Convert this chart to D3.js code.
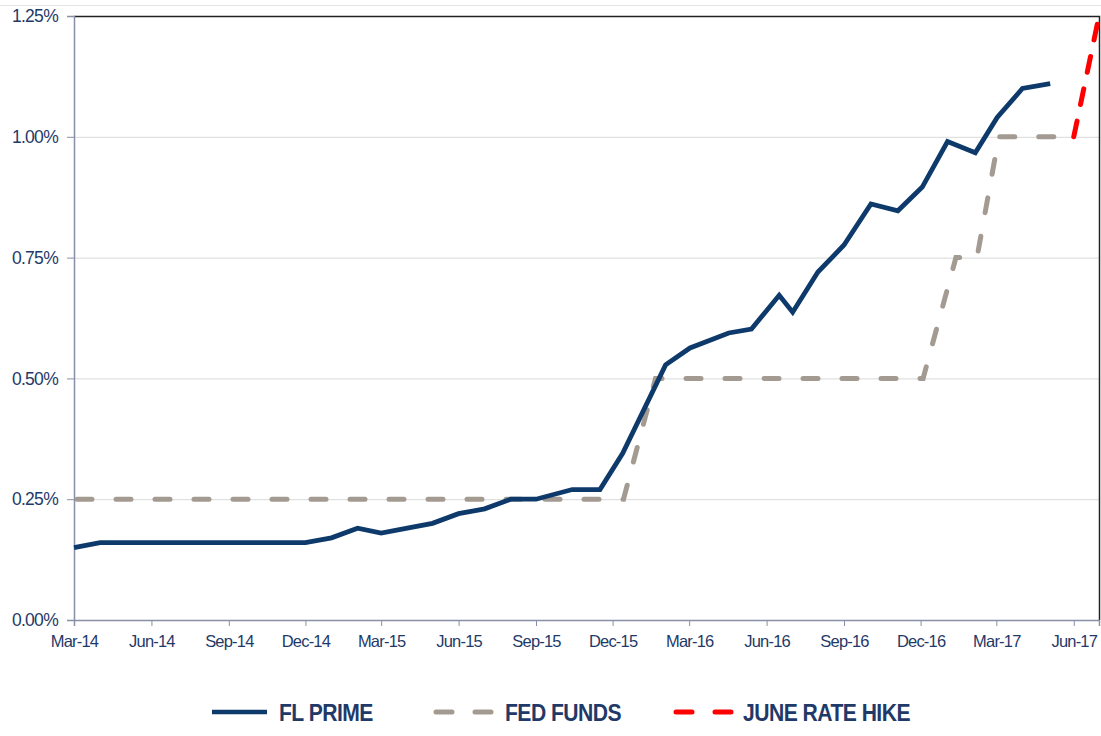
<!DOCTYPE html>
<html lang="en">
<head>
<meta charset="UTF-8">
<title>FL Prime vs Fed Funds</title>
<script src="https://d3js.org/d3.v7.min.js"></script>
<style>
  body { margin: 0; background: #fff; }
  #chart { width: 1101px; height: 736px; }
  text { font-family: "Liberation Sans", Arial, sans-serif; fill: #1f3a68; }
</style>
</head>
<body>
<div id="chart"></div>
<script>
// FL PRIME (percent)
var primeDates = ["2014-03-01", "2014-04-01", "2014-05-01", "2014-06-01", "2014-07-01", "2014-08-01",
    "2014-09-01", "2014-10-01", "2014-11-01", "2014-12-01", "2015-01-01", "2015-02-01", "2015-03-01",
    "2015-04-01", "2015-05-01", "2015-06-01", "2015-07-02", "2015-08-02", "2015-09-01", "2015-10-14",
    "2015-11-16", "2015-12-13", "2016-02-02", "2016-03-02", "2016-04-17", "2016-05-14", "2016-06-16",
    "2016-07-02", "2016-08-01", "2016-09-01", "2016-10-03", "2016-11-04", "2016-12-03", "2017-01-02",
    "2017-02-04", "2017-03-02", "2017-04-01", "2017-05-04"];
var primeValues = [0.15, 0.16, 0.16, 0.16, 0.16, 0.16, 0.16, 0.16, 0.16, 0.16, 0.17, 0.19, 0.18,
    0.19, 0.20, 0.22, 0.23, 0.25, 0.25, 0.27, 0.27, 0.345, 0.528, 0.563, 0.594, 0.602, 0.672,
    0.637, 0.72, 0.776, 0.861, 0.847, 0.896, 0.99, 0.967, 1.04, 1.10, 1.11];

// FED FUNDS (percent)
var fedDates = ["2014-03-01", "2015-12-14", "2016-01-21", "2016-12-04", "2017-01-12", "2017-02-06", "2017-03-04", "2017-06-01"];
var fedValues = [0.25, 0.25, 0.50, 0.50, 0.75, 0.75, 1.00, 1.00];

// JUNE RATE HIKE (percent)
var hikeDates = ["2017-06-01", "2017-07-01"];
var hikeValues = [1.00, 1.25];

var yTicks = [0, 0.25, 0.5, 0.75, 1.0, 1.25];
var xTicks = ["2014-03-01", "2014-06-01", "2014-09-01", "2014-12-01", "2015-03-01", "2015-06-01",
    "2015-09-01", "2015-12-01", "2016-03-01", "2016-06-01", "2016-09-01", "2016-12-01",
    "2017-03-01", "2017-06-01"];
var legendLabels = ["FL PRIME", "FED FUNDS", "JUNE RATE HIKE"];

var parse = d3.timeParse("%Y-%m-%d");
function series(dates, values) {
    return dates.map(function (d, i) { return { date: parse(d), value: values[i] }; });
}
var prime = series(primeDates, primeValues);
var fed = series(fedDates, fedValues);
var hike = series(hikeDates, hikeValues);

var width = 1101, height = 736;
var plotLeft = 74, plotRight = 1099, plotTop = 16, plotBottom = 620;

var svg = d3.select("#chart").append("svg")
    .attr("width", width)
    .attr("height", height);

var x = d3.scaleTime()
    .domain([parse("2014-03-01"), parse("2017-07-01")])
    .range([plotLeft, plotRight]);

var y = d3.scaleLinear()
    .domain([0, 1.25])
    .range([plotBottom, plotTop]);

// faint frame line at the very top
svg.append("line")
    .attr("x1", 0).attr("x2", width).attr("y1", 5.5).attr("y2", 5.5)
    .attr("stroke", "#e4e4e4").attr("stroke-width", 1);

// gridlines
svg.append("g")
    .selectAll("line")
    .data(yTicks.filter(function (d) { return d > 0 && d < 1.25; }))
    .enter().append("line")
    .attr("x1", plotLeft).attr("x2", plotRight)
    .attr("y1", function (d) { return y(d) + 0.5; })
    .attr("y2", function (d) { return y(d) + 0.5; })
    .attr("stroke", "#d9d9d9")
    .attr("stroke-width", 1);

// top and right border
svg.append("path")
    .attr("d", "M" + plotLeft + "," + (plotTop + 0.5) + "H" + (plotRight + 0.5) + "V" + plotBottom)
    .attr("fill", "none")
    .attr("stroke", "#222")
    .attr("stroke-width", 1.5);

// y axis
var yAxis = d3.axisLeft(y)
    .tickValues(yTicks)
    .tickSize(7)
    .tickPadding(9)
    .tickFormat(function (d) { return d3.format(".2f")(d) + "%"; });

var gy = svg.append("g")
    .attr("transform", "translate(" + plotLeft + ",0)")
    .call(yAxis);
gy.select(".domain").attr("stroke", "#8790a6").attr("stroke-width", 1.5);
gy.selectAll(".tick line").attr("stroke", "#8790a6");
gy.selectAll(".tick text")
    .style("font-size", "17.5px")
    .style("letter-spacing", "-0.7px")
    .attr("fill", "#1f3a68");

// x axis
var xAxis = d3.axisBottom(x)
    .tickValues(xTicks.map(parse))
    .tickSize(6)
    .tickPadding(9)
    .tickFormat(d3.timeFormat("%b-%y"));

var gx = svg.append("g")
    .attr("transform", "translate(0," + plotBottom + ")")
    .call(xAxis);
gx.select(".domain").attr("stroke", "#8790a6").attr("stroke-width", 1.5);
gx.selectAll(".tick line").attr("stroke", "#8790a6");
gx.selectAll(".tick text")
    .style("font-size", "16.5px")
    .style("letter-spacing", "-0.8px")
    .attr("fill", "#1f3a68");

var line = d3.line()
    .x(function (d) { return x(d.date); })
    .y(function (d) { return y(d.value); });

// FED FUNDS
svg.append("path")
    .datum(fed)
    .attr("d", line)
    .attr("fill", "none")
    .attr("stroke", "#a39b91")
    .attr("stroke-width", 5)
    .attr("stroke-linecap", "round")
    .attr("stroke-dasharray", "15,24")
    .attr("stroke-dashoffset", -3);

// JUNE RATE HIKE
svg.append("path")
    .datum(hike)
    .attr("d", line)
    .attr("fill", "none")
    .attr("stroke", "#ff0000")
    .attr("stroke-width", 5)
    .attr("stroke-linecap", "round")
    .attr("stroke-dasharray", "16,17");

// FL PRIME
svg.append("path")
    .datum(prime)
    .attr("d", line)
    .attr("fill", "none")
    .attr("stroke", "#0d3a6b")
    .attr("stroke-width", 4.8)
    .attr("stroke-linejoin", "miter");

// legend
var legendItems = [
    { label: legendLabels[0], color: "#0d3a6b", dash: null, x0: 212, x1: 267, tx: 279 },
    { label: legendLabels[1], color: "#a39b91", dash: "16,23", x0: 436, x1: 494, tx: 505 },
    { label: legendLabels[2], color: "#ff0000", dash: "16,23", x0: 676, x1: 733, tx: 743 }
];
var legend = svg.append("g").attr("class", "legend");
legendItems.forEach(function (d) {
    var l = legend.append("line")
        .attr("x1", d.x0).attr("x2", d.x1)
        .attr("y1", 712).attr("y2", 712)
        .attr("stroke", d.color)
        .attr("stroke-width", d.dash ? 5 : 4.5)
        .attr("stroke-linecap", d.dash ? "round" : "butt");
    if (d.dash) l.attr("stroke-dasharray", d.dash);
    legend.append("text")
        .attr("transform", "translate(" + d.tx + ",720.5) scale(0.88,1)")
        .style("font-size", "24px")
        .style("font-weight", "bold")
        .style("letter-spacing", "-0.6px")
        .attr("fill", "#1f3a68")
        .text(d.label);
});
</script>
</body>
</html>
